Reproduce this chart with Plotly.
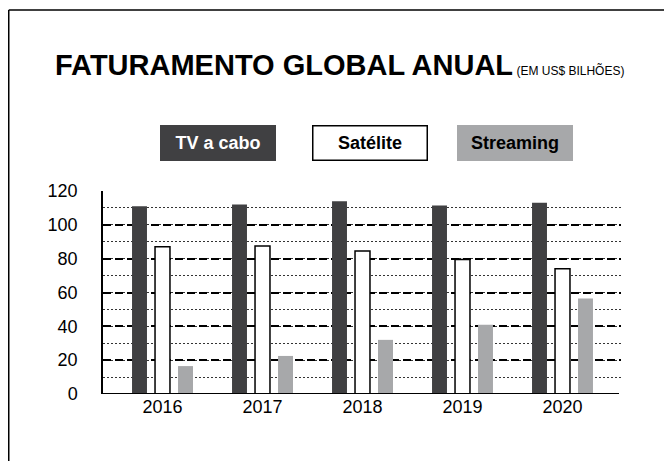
import plotly.graph_objects as go

years = ["2016", "2017", "2018", "2019", "2020"]
tv_cabo = [111, 112, 114, 111.5, 113]
satelite = [87, 87.5, 84.5, 79.5, 74]
streaming = [16.5, 22.5, 32, 41, 56.5]
series_names = ["TV a cabo", "Satélite", "Streaming"]
y_ticks = [0, 20, 40, 60, 80, 100, 120]

DARK = "#404042"
GRAY = "#a7a8aa"
FONT = "Liberation Sans, Arial, sans-serif"

# page shows the figure offset by the 8px body margin
OFF = 8
W, H = 672 - OFF, 461 - OFF
L, R, T, B = 103 - OFF, 51, 191 - OFF, 67
pw, ph = W - L - R, H - T - B

def px(x):
    return (x - OFF - L) / pw

def py(y):
    return (H - B - (y - OFF)) / ph

fig = go.Figure()
fig.add_bar(x=years, y=tv_cabo, name=series_names[0], marker=dict(color=DARK, line=dict(width=0)))
fig.add_bar(x=years, y=satelite, name=series_names[1], marker=dict(color="white", line=dict(color="black", width=1.5)))
fig.add_bar(x=years, y=streaming, name=series_names[2], marker=dict(color=GRAY, line=dict(width=0)))

fig.update_layout(
    width=W, height=H,
    margin=dict(l=L, r=R, t=T, b=B),
    paper_bgcolor="white", plot_bgcolor="white",
    barmode="group", bargap=0.31, bargroupgap=0.35,
    showlegend=False,
    font=dict(family=FONT, size=18, color="black"),
    xaxis=dict(
        type="category", range=[-0.595, 4.585],
        showgrid=False, showline=False, ticks="", zeroline=False,
        tickfont=dict(family=FONT, size=18, color="black"),
    ),
    yaxis=dict(
        range=[0, 120], tickvals=y_ticks,
        showgrid=True, gridcolor="black", gridwidth=1.5, griddash="8px,4px",
        minor=dict(dtick=10, tick0=0, showgrid=True, gridcolor="#333333", gridwidth=1, griddash="2px,2px"),
        showline=True, linecolor="black", linewidth=1.5,
        zeroline=False, ticks="", ticklabelstandoff=20,
        tickfont=dict(family=FONT, size=18, color="black"),
    ),
)

# baseline
fig.add_shape(type="line", xref="paper", yref="y", x0=0, x1=px(619), y0=0, y1=0,
              line=dict(color="black", width=2), layer="above")
# frame (left and top)
fig.add_shape(type="line", xref="paper", yref="paper", x0=px(8.75), x1=px(8.75), y0=py(10), y1=py(461),
              line=dict(color="black", width=1.5))
fig.add_shape(type="line", xref="paper", yref="paper", x0=px(8.75), x1=px(672), y0=py(10), y1=py(10),
              line=dict(color="black", width=1.5))

# title
fig.add_annotation(
    xref="paper", yref="paper", x=px(53), y=py(65), xanchor="left", yanchor="middle",
    showarrow=False,
    text="<b>FATURAMENTO GLOBAL ANUAL</b><span style='font-size:12px;font-weight:normal'> (EM US$ BILHÕES)</span>",
    font=dict(family=FONT, size=29, color="black"),
)

# legend boxes
legend_specs = [
    (series_names[0], 218, DARK, DARK, "white"),
    (series_names[1], 369.5, "white", "black", "black"),
    (series_names[2], 515, GRAY, GRAY, "black"),
]
for name, cx, bg, bc, fc in legend_specs:
    fig.add_annotation(
        xref="paper", yref="paper", x=px(cx), y=py(142.5), xanchor="center", yanchor="middle",
        showarrow=False, text="<b>" + name + "</b>",
        font=dict(family=FONT, size=18, color=fc),
        bgcolor=bg, bordercolor=bc, borderwidth=1.5, borderpad=0,
        width=113, height=33, align="center", valign="middle",
    )

fig.write_html("out.html")
